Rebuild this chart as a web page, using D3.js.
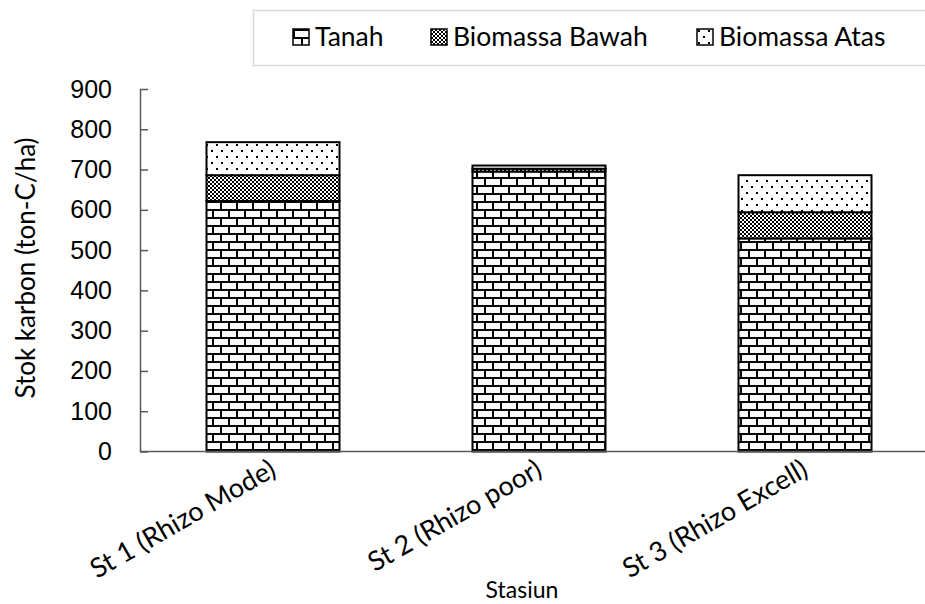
<!DOCTYPE html>
<html>
<head>
<meta charset="utf-8">
<script src="https://cdn.jsdelivr.net/npm/d3@7"></script>
<style>
  body { margin: 0; background: #fff; }
  svg { display: block; font-family: Lato, "Open Sans", sans-serif; }
</style>
</head>
<body>
<div class="chart"></div>
<script>
// data
const stations = ['St 1 (Rhizo Mode)', 'St 2 (Rhizo poor)', 'St 3 (Rhizo Excell)'];
const series_names = ['Tanah', 'Biomassa Bawah', 'Biomassa Atas'];
const tanah = [622, 695, 529];
const biomassa_bawah = [64, 7, 65];
const biomassa_atas = [82, 8, 92];
const y_ticks = [0, 100, 200, 300, 400, 500, 600, 700, 800, 900];

const svg_width = 925;
const svg_height = 604;
const margin = {top: 89, right: -13, bottom: 152.5, left: 140};
const chart_width = svg_width - margin.left - margin.right;
const chart_height = svg_height - margin.top - margin.bottom;

const svg = d3.select('.chart').append('svg')
    .attr('width', svg_width)
    .attr('height', svg_height);

// patterns
const defs = svg.append('defs');

// brick -> Tanah
const brick = defs.append('pattern')
    .attr('id', 'p-tanah')
    .attr('patternUnits', 'userSpaceOnUse')
    .attr('width', 16).attr('height', 16);
brick.append('rect').attr('width', 16).attr('height', 16).attr('fill', '#fff');
brick.append('path')
    .attr('d', 'M0,1H16 M0,9H16 M1,1V9 M9,9V17 M9,-7V1')
    .attr('stroke', '#000').attr('stroke-width', 2).attr('fill', 'none');

// checker -> Biomassa Bawah
const checker = defs.append('pattern')
    .attr('id', 'p-bawah')
    .attr('patternUnits', 'userSpaceOnUse')
    .attr('width', 4).attr('height', 4);
checker.append('rect').attr('width', 4).attr('height', 4).attr('fill', '#fff');
checker.append('rect').attr('width', 2).attr('height', 2).attr('fill', '#000');
checker.append('rect').attr('x', 2).attr('y', 2).attr('width', 2).attr('height', 2).attr('fill', '#000');

// dots -> Biomassa Atas
const dots = defs.append('pattern')
    .attr('id', 'p-atas')
    .attr('patternUnits', 'userSpaceOnUse')
    .attr('width', 10).attr('height', 12);
dots.append('rect').attr('width', 10).attr('height', 12).attr('fill', '#fff');
dots.append('rect').attr('x', 1).attr('y', 1).attr('width', 2).attr('height', 2).attr('fill', '#000');
dots.append('rect').attr('x', 6).attr('y', 7).attr('width', 2).attr('height', 2).attr('fill', '#000');

const fills = ['url(#p-tanah)', 'url(#p-bawah)', 'url(#p-atas)'];

// stack
const table = stations.map((s, i) => ({
    station: s,
    'Tanah': tanah[i],
    'Biomassa Bawah': biomassa_bawah[i],
    'Biomassa Atas': biomassa_atas[i]
}));
const stacked = d3.stack().keys(series_names)(table);

const g = svg.append('g')
    .attr('transform', `translate(${margin.left}, ${margin.top})`);

const x_scale = d3.scaleBand()
    .domain(stations)
    .range([0, chart_width])
    .paddingInner(0.5)
    .paddingOuter(0.25);

const y_scale = d3.scaleLinear([0, 900], [chart_height, 0]);

// bars
g.append('g').attr('class', 'bars')
    .selectAll('g')
    .data(stacked)
    .join('g')
    .attr('fill', (d, i) => fills[i])
    .selectAll('rect')
    .data(d => d)
    .join('rect')
    .attr('x', d => x_scale(d.data.station))
    .attr('y', d => y_scale(d[1]))
    .attr('width', x_scale.bandwidth())
    .attr('height', d => y_scale(d[0]) - y_scale(d[1]))
    .attr('stroke', '#000')
    .attr('stroke-width', 2);

// y axis
const y_axis = d3.axisLeft(y_scale)
    .tickValues(y_ticks)
    .tickSizeInner(-8)
    .tickSizeOuter(0)
    .tickPadding(28);
const y_axis_draw = g.append('g').attr('class', 'y axis').call(y_axis);
y_axis_draw.select('.domain').attr('stroke', '#595959').attr('stroke-width', 1.5);
y_axis_draw.selectAll('.tick line').attr('stroke', '#595959').attr('stroke-width', 1.5);
y_axis_draw.selectAll('text')
    .style('font-size', '25px')
    .attr('fill', '#000');

// x axis line
g.append('line')
    .attr('x1', 0).attr('x2', chart_width)
    .attr('y1', chart_height).attr('y2', chart_height)
    .attr('stroke', '#595959').attr('stroke-width', 1.5);

// x labels (rotated)
g.append('g').attr('class', 'x labels')
    .selectAll('text')
    .data(stations)
    .join('text')
    .attr('transform', d => `translate(${x_scale(d) + x_scale.bandwidth() / 2}, ${chart_height + 15}) rotate(-30)`)
    .attr('text-anchor', 'end')
    .attr('dy', '0.35em')
    .style('font-size', '27px')
    .text(d => d);

// axis titles
svg.append('text')
    .attr('x', 522).attr('y', 598)
    .attr('text-anchor', 'middle')
    .style('font-size', '23px')
    .text('Stasiun');

svg.append('text')
    .attr('transform', 'translate(35, 268) rotate(-90)')
    .attr('text-anchor', 'middle')
    .style('font-size', '26px')
    .text('Stok karbon (ton-C/ha)');

// legend
svg.append('rect')
    .attr('x', 253.5).attr('y', 10.5)
    .attr('width', 700).attr('height', 55)
    .attr('fill', '#fff')
    .attr('stroke', '#d9d9d9').attr('stroke-width', 1.5);

const legend_x = [293, 431, 697];
const legend = svg.append('g').attr('class', 'legend')
    .selectAll('g')
    .data(series_names)
    .join('g')
    .attr('transform', (d, i) => `translate(${legend_x[i]}, 29)`);

legend.append('rect')
    .attr('width', 16).attr('height', 16)
    .attr('fill', (d, i) => fills[i])
    .attr('stroke', '#000').attr('stroke-width', 1.5);

legend.append('text')
    .attr('x', 22).attr('y', 17)
    .style('font-size', '26.5px')
    .text(d => d);
</script>
</body>
</html>
